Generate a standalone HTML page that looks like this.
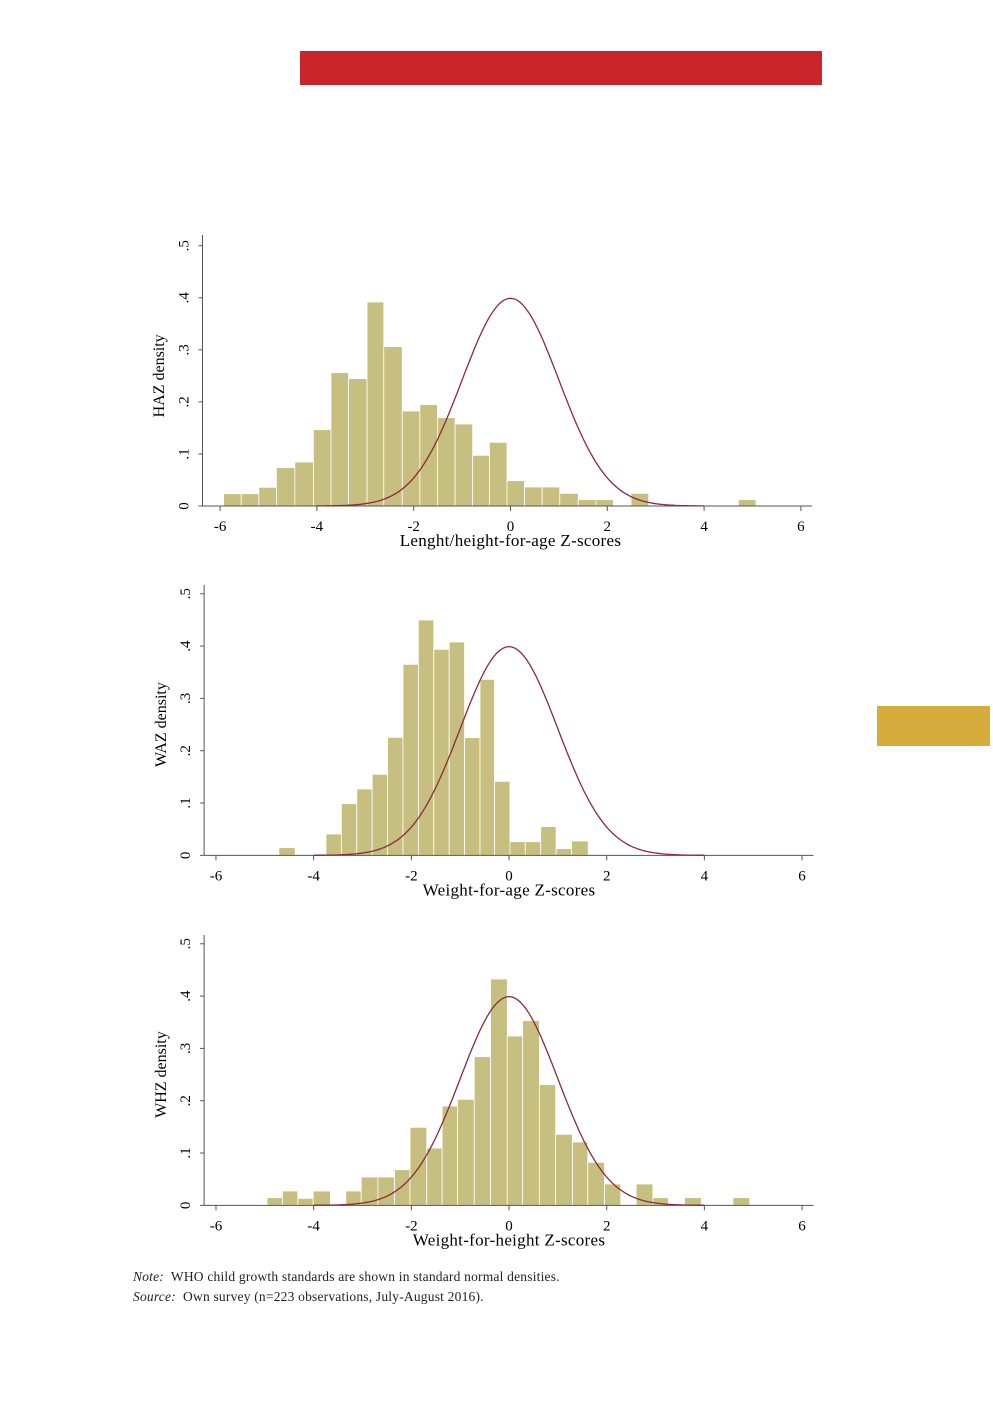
<!DOCTYPE html>
<html><head><meta charset="utf-8"><style>
body{margin:0;background:#fff;width:993px;height:1418px;overflow:hidden;position:relative;font-family:"Liberation Serif",serif}
.note{position:absolute;left:133px;font-size:13.5px;color:#222;letter-spacing:0.2px}
</style></head><body>
<div style="position:absolute;left:300px;top:51px;width:522px;height:34px;background:#c9252b"></div>
<div style="position:absolute;left:877px;top:706px;width:113px;height:40px;background:#d4ad3c"></div>
<svg id="s" width="993" height="1418" style="position:absolute;left:0;top:0"></svg>
<div class="note" style="top:1269px"><i>Note:</i>&nbsp; WHO child growth standards are shown in standard normal densities.</div>
<div class="note" style="top:1289px"><i>Source:</i>&nbsp; Own survey (n=223 observations, July-August 2016).</div>
<script>
const charts=[
 {oy:230,ox:138.7,z0:845,u:110,y0:828,pk:205,ylab:"HAZ density",xlab:"Lenght/height-for-age Z-scores",
  bars:[[193,233,791],[233,273,791],[273,313,772],[313,355,713],[355,397,696],[397,437,599],[437,477,428],[477,519,446],[519,557,216],[557,599,350],[599,639,543],[639,679,524],[679,719,563],[719,759,582],[759,797,676],[797,837,637],[837,877,752],[877,917,771],[917,957,771],[957,999,790],[999,1039,809],[1039,1079,809],[1119,1159,790],[1363,1403,809]]},
 {oy:580,ox:140.3,z0:838,u:111,y0:826,pk:200,ylab:"WAZ density",xlab:"Weight-for-age Z-scores",
  bars:[[315,352,803],[422,457,762],[457,492,671],[492,527,627],[527,562,583],[562,597,472],[597,632,253],[632,667,120],[667,702,208],[702,737,186],[737,772,473],[772,805,298],[805,840,604],[840,875,785],[875,910,785],[910,945,740],[945,980,806],[980,1018,783]]},
 {oy:930,ox:140.3,z0:838,u:111,y0:826,pk:200,ylab:"WHZ density",xlab:"Weight-for-height Z-scores",
  bars:[[288,323,803],[323,358,783],[358,393,805],[393,432,783],[467,502,783],[502,540,741],[540,578,741],[578,613,719],[613,651,592],[651,686,654],[686,721,528],[721,759,508],[759,796,380],[796,834,147],[834,869,318],[869,907,272],[907,944,464],[944,982,613],[982,1017,636],[1017,1055,697],[1055,1092,762],[1127,1165,762],[1165,1200,803],[1237,1275,803],[1347,1385,803]]}
];
let h="";
for(const c of charts){
 const X=z=>c.ox+z*0.44, Y=z=>c.oy+z/3;
 const ppd=(c.y0-c.pk)/0.3989;
 for(const b of c.bars){h+=`<rect x="${X(b[0])}" y="${Y(b[2])}" width="${X(b[1])-X(b[0])}" height="${Y(c.y0)-Y(b[2])}" fill="#c6bf7f" stroke="#fff" stroke-width="0.8"/>`;}
 const ax=Y(c.y0), yl=X(145);
 h+=`<line x1="${yl}" y1="${Y(15)}" x2="${yl}" y2="${ax}" stroke="#555" stroke-width="1"/>`;
 h+=`<line x1="${yl}" y1="${ax}" x2="${X(1530)}" y2="${ax}" stroke="#555" stroke-width="1"/>`;
 for(let d=0;d<=5;d++){const yy=Y(c.y0-ppd*d/10);
  h+=`<line x1="${yl-4}" y1="${yy}" x2="${yl}" y2="${yy}" stroke="#555"/>`;
  h+=`<text x="${yl-18}" y="${yy}" font-size="15" text-anchor="middle" transform="rotate(-90 ${yl-18} ${yy})" dy="4">${d==0?"0":"."+d}</text>`;}
 for(let t=-6;t<=6;t+=2){const xx=X(c.z0+t*c.u);
  h+=`<line x1="${xx}" y1="${ax}" x2="${xx}" y2="${ax+5}" stroke="#555"/>`;
  h+=`<text x="${xx}" y="${ax+25}" font-size="15" text-anchor="middle">${t}</text>`;}
 h+=`<text x="${X(c.z0)}" y="${ax+40}" font-size="17" text-anchor="middle" letter-spacing="0.3">${c.xlab}</text>`;
 const ly=Y(c.y0-ppd*0.25), lx=X(58);
 h+=`<text x="${lx}" y="${ly}" font-size="16" text-anchor="middle" transform="rotate(-90 ${lx} ${ly})">${c.ylab}</text>`;
 let p="";
 for(let z=-4;z<=4.001;z+=0.05){const zx=c.z0+z*c.u, zy=c.y0-ppd*Math.exp(-z*z/2)/Math.sqrt(2*Math.PI);
  p+=(p?"L":"M")+X(zx).toFixed(1)+","+Y(zy).toFixed(1);}
 h+=`<path d="${p}" fill="none" stroke="#8b2a3e" stroke-width="1.3"/>`;
}
document.getElementById("s").innerHTML=h;
</script>
</body></html>
